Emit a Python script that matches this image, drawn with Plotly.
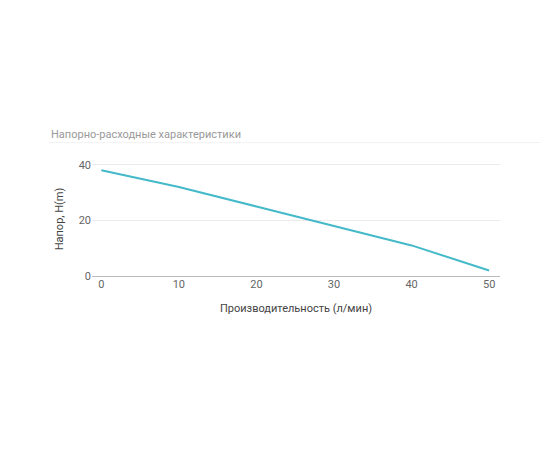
import plotly.graph_objects as go

flow = [0, 10, 20, 30, 40, 50]
head = [38, 32, 25, 18, 11, 2]

fig = go.Figure(go.Scatter(x=flow, y=head, mode="lines",
                           line=dict(color="#44b9c9", width=2)))
fig.update_layout(
    width=550, height=450, paper_bgcolor="white", plot_bgcolor="white",
    margin=dict(l=84, r=58, t=154, b=182),
    showlegend=False,
    font=dict(family="Roboto", size=11, color="#666"),
)
fig.add_annotation(text="Напорно-расходные характеристики", xref="paper", yref="paper",
                   x=-0.105, y=1.245, xanchor="left", yanchor="middle", showarrow=False,
                   font=dict(size=11, color="#999"))
fig.add_shape(type="line", xref="paper", yref="paper", x0=-0.105, x1=1.1, y0=1.17, y1=1.17,
              line=dict(color="#f2f2f2", width=1))
fig.update_xaxes(range=[-1.2, 51.4], tickvals=[0, 10, 20, 30, 40, 50], showgrid=False,
                 zeroline=False, showline=False, ticks="",
                 title=dict(text="Производительность (л/мин)", font=dict(size=11, color="#444"), standoff=14))
fig.update_yaxes(range=[0, 41], tickvals=[0, 20, 40], gridcolor="#ebebeb",
                 zeroline=True, zerolinecolor="#bbbbbb", zerolinewidth=1, showline=False,
                 title=dict(text="Напор, H(m)", font=dict(size=11, color="#444"), standoff=12))
fig.write_html("out.html")
